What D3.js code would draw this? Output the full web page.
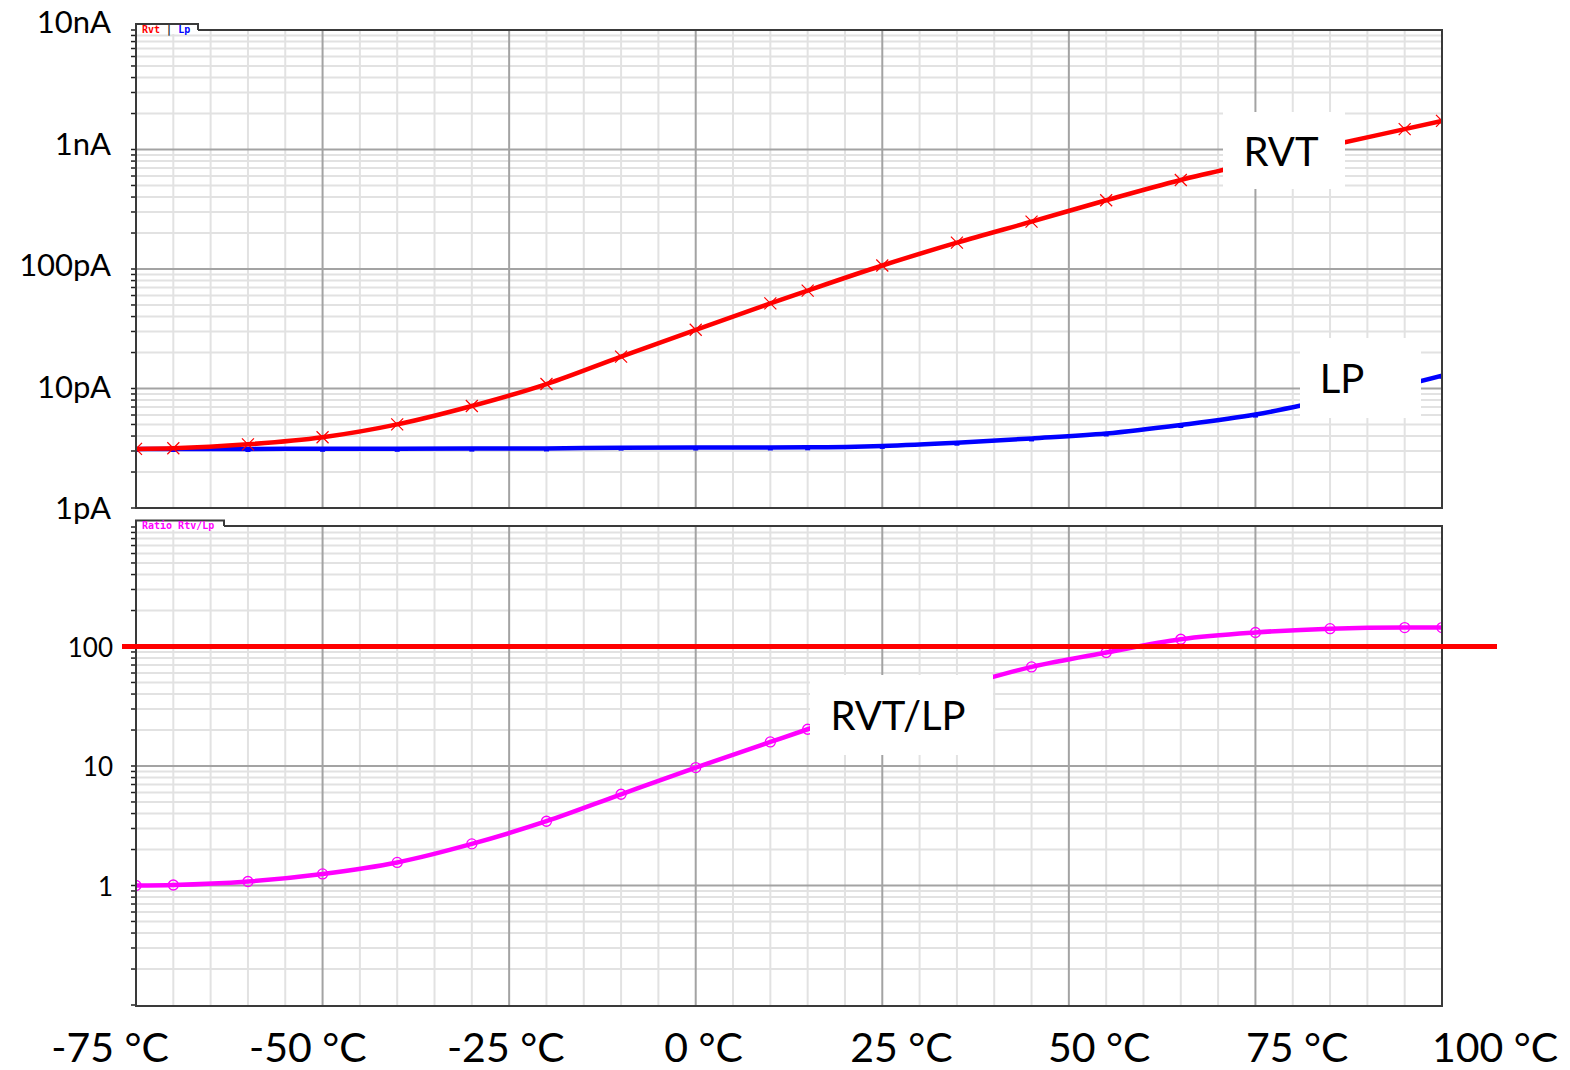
<!DOCTYPE html>
<html>
<head>
<meta charset="utf-8">
<script src="https://cdn.jsdelivr.net/npm/d3@7"></script>
<style>
  body { margin: 0; background: #fff; }
  svg { display: block; }
</style>
</head>
<body>
<svg id="chart" width="1570" height="1070"></svg>
<script>
// Leakage current vs temperature: RVT and LP devices, plus their ratio
const temps = [-75, -70, -60, -50, -40, -30, -20, -10, 0, 10, 15, 25, 35, 45, 55, 65, 75, 85, 95, 100];
const rvtLeakage = [3.12, 3.16, 3.41, 3.91, 5.01, 7.14, 10.9, 18.5, 31, 51.5, 66, 107, 166, 249, 376, 556, 776, 1080, 1480, 1735]; // pA
const lpLeakage = [3.12, 3.12, 3.12, 3.13, 3.13, 3.14, 3.15, 3.2, 3.21, 3.21, 3.22, 3.31, 3.52, 3.82, 4.2, 4.95, 6.05, 8.1, 10.7, 12.8]; // pA
const leakRatio = [1.0, 1.01, 1.08, 1.25, 1.56, 2.23, 3.45, 5.8, 9.7, 15.9, 20.3, 32, 46, 67.5, 89, 115, 131, 141, 144, 144];

const tempTicks = [-75, -50, -25, 0, 25, 50, 75, 100];
const tempTickLabels = ["-75 °C", "-50 °C", "-25 °C", "0 °C", "25 °C", "50 °C", "75 °C", "100 °C"];
const currentTicks = [1, 10, 100, 1000, 10000]; // pA
const currentTickLabels = ["1pA", "10pA", "100pA", "1nA", "10nA"];
const ratioTicks = [1, 10, 100];
const ratioTickLabels = ["1", "10", "100"];
const ratioLimit = 100;

const svg = d3.select("#chart");
svg.append("rect").attr("width", 1570).attr("height", 1070).attr("fill", "#fff");

const x = d3.scaleLinear().domain([-75, 100]).range([136, 1442]);
const xLabel = d3.scaleLinear().domain([-75, 100]).range([110, 1495]);

const panels = [
  { id: "cur", y: d3.scaleLog().domain([1, 10000]).range([508, 30]), top: 30, bottom: 508 },
  { id: "rat", y: d3.scaleLog().domain([0.1, 1000]).range([1005, 527]), top: 526, bottom: 1006 }
];

const minorGrid = "#e2e2e2", majorGrid = "#a3a3a3", frame = "#3a3a3a";

function logSteps(domain) {
  const out = [];
  const d0 = Math.round(Math.log10(domain[0])), d1 = Math.round(Math.log10(domain[1]));
  for (let d = d0; d < d1; d++) {
    for (let k = 2; k <= 9; k++) out.push(k * Math.pow(10, d));
  }
  return out;
}
function decades(domain) {
  const out = [];
  const d0 = Math.round(Math.log10(domain[0])), d1 = Math.round(Math.log10(domain[1]));
  for (let d = d0; d <= d1; d++) out.push(Math.pow(10, d));
  return out;
}

const defs = svg.append("defs");

panels.forEach(p => {
  const g = svg.append("g").attr("class", "panel-" + p.id);
  defs.append("clipPath").attr("id", "clip-" + p.id)
    .append("rect").attr("x", 136).attr("y", p.top).attr("width", 1442 - 136).attr("height", p.bottom - p.top);

  // minor verticals every 5 °C
  g.selectAll("line.vmin").data(d3.range(-75, 101, 5).filter(t => !tempTicks.includes(t)))
    .join("line").attr("x1", d => x(d)).attr("x2", d => x(d))
    .attr("y1", p.top).attr("y2", p.bottom)
    .attr("stroke", minorGrid).attr("stroke-width", 2);
  // minor horizontals (log)
  g.selectAll("line.hmin").data(logSteps(p.y.domain()))
    .join("line").attr("x1", 136).attr("x2", 1442)
    .attr("y1", d => p.y(d)).attr("y2", d => p.y(d))
    .attr("stroke", minorGrid).attr("stroke-width", 2);
  // major verticals
  g.selectAll("line.vmaj").data(tempTicks.slice(1, -1))
    .join("line").attr("x1", d => x(d)).attr("x2", d => x(d))
    .attr("y1", p.top).attr("y2", p.bottom)
    .attr("stroke", majorGrid).attr("stroke-width", 2);
  // major horizontals (decades)
  g.selectAll("line.hmaj").data(decades(p.y.domain()).slice(1, -1))
    .join("line").attr("x1", 136).attr("x2", 1442)
    .attr("y1", d => p.y(d)).attr("y2", d => p.y(d))
    .attr("stroke", majorGrid).attr("stroke-width", 2);

  // left axis small ticks
  g.selectAll("line.tk").data(logSteps(p.y.domain()).concat(decades(p.y.domain())))
    .join("line").attr("x1", 131).attr("x2", 136)
    .attr("y1", d => p.y(d)).attr("y2", d => p.y(d))
    .attr("stroke", "#222").attr("stroke-width", 1.5);
});

const curPanel = panels[0], ratPanel = panels[1];
const rows = temps.map((t, i) => ({ t, rvt: rvtLeakage[i], lp: lpLeakage[i], r: leakRatio[i] }));

function drawSeries(panel, key, color, marker) {
  const g = svg.append("g").attr("clip-path", `url(#clip-${panel.id})`);
  const line = d3.line().x(d => x(d.t)).y(d => panel.y(d[key])).curve(d3.curveMonotoneX);
  g.append("path").datum(rows).attr("d", line)
    .attr("fill", "none").attr("stroke", color).attr("stroke-width", 4.5);
  const m = g.selectAll("g.m").data(rows).join("g")
    .attr("transform", d => `translate(${x(d.t)},${panel.y(d[key])})`);
  if (marker === "x") {
    m.append("path").attr("d", "M-6,-6L6,6M-6,6L6,-6")
      .attr("stroke", color).attr("stroke-width", 1.2).attr("fill", "none");
  } else if (marker === "square") {
    m.append("rect").attr("x", -2.5).attr("y", -1).attr("width", 5).attr("height", 4).attr("fill", color);
  } else {
    m.append("circle").attr("r", 5).attr("fill", "none")
      .attr("stroke", color).attr("stroke-width", 1.3);
  }
}

drawSeries(curPanel, "lp", "#0000ff", "square");
drawSeries(curPanel, "rvt", "#ff0000", "x");
drawSeries(ratPanel, "r", "#ff00ff", "circle");

// panel frames
panels.forEach(p => {
  svg.append("rect").attr("x", 136).attr("y", p.top).attr("width", 1442 - 136).attr("height", p.bottom - p.top)
    .attr("fill", "none").attr("stroke", frame).attr("stroke-width", 2);
});

// ratio limit line
svg.append("line").attr("x1", 122).attr("x2", 1497)
  .attr("y1", ratPanel.y(ratioLimit)).attr("y2", ratPanel.y(ratioLimit))
  .attr("stroke", "#ff0000").attr("stroke-width", 5);

// legend tabs
function tab(x0, x1, yTop, yFrame, items) {
  svg.append("rect").attr("x", x0 + 1).attr("y", yTop).attr("width", x1 - x0 - 1).attr("height", yFrame - yTop + 4).attr("fill", "#fff");
  svg.append("path").attr("d", `M${x0},${yFrame}V${yTop}H${x1}V${yFrame}`)
    .attr("fill", "none").attr("stroke", frame).attr("stroke-width", 2);
  const t = svg.append("text").attr("x", x0 + 6).attr("y", yTop + 8.5)
    .attr("font-family", "'DejaVu Sans Mono', monospace").attr("font-size", 10)
    .attr("font-weight", "bold");
  items.forEach(it => t.append("tspan").attr("fill", it.c).text(it.s));
}
tab(136, 198, 24, 30, [{ s: "Rvt", c: "#ff0000" }, { s: " | ", c: "#222" }, { s: "Lp", c: "#0000ff" }]);
tab(136, 224, 520.5, 526, [{ s: "Ratio Rtv/Lp", c: "#ff00ff" }]);

// callout boxes
function callout(cx, cy, w, h, tx, label) {
  svg.append("rect").attr("x", cx - w / 2).attr("y", cy - h / 2).attr("width", w).attr("height", h).attr("fill", "#fff");
  svg.append("text").attr("x", tx).attr("y", cy + 15).attr("text-anchor", "middle")
    .attr("font-family", "Lato, 'Open Sans', sans-serif").attr("font-size", 40).attr("fill", "#000")
    .text(label);
}
callout(1284, 150.5, 122, 77, 1281, "RVT");
callout(1360.5, 378, 121, 80, 1342, "LP");
callout(901.5, 715, 183, 80, 898, "RVT/LP");

// axis labels
const yCurLabel = d3.scaleLog().domain([1, 10000]).range([508, 22]);
svg.selectAll("text.ycur").data(currentTicks).join("text")
  .attr("x", 111).attr("y", d => yCurLabel(d) + 11).attr("text-anchor", "end")
  .attr("font-family", "Lato, sans-serif").attr("font-size", 31).attr("fill", "#000")
  .text((d, i) => currentTickLabels[i]);

svg.selectAll("text.yrat").data(ratioTicks).join("text")
  .attr("x", 113).attr("y", d => ratPanel.y(d) + 10).attr("text-anchor", "end")
  .attr("font-family", "Lato, sans-serif").attr("font-size", 26).attr("fill", "#000")
  .text((d, i) => ratioTickLabels[i]);

svg.selectAll("text.xl").data(tempTicks).join("text")
  .attr("x", d => xLabel(d)).attr("y", 1062).attr("text-anchor", "middle")
  .attr("font-family", "Lato, sans-serif").attr("font-size", 41).attr("fill", "#000")
  .text((d, i) => tempTickLabels[i]);
</script>
</body>
</html>
